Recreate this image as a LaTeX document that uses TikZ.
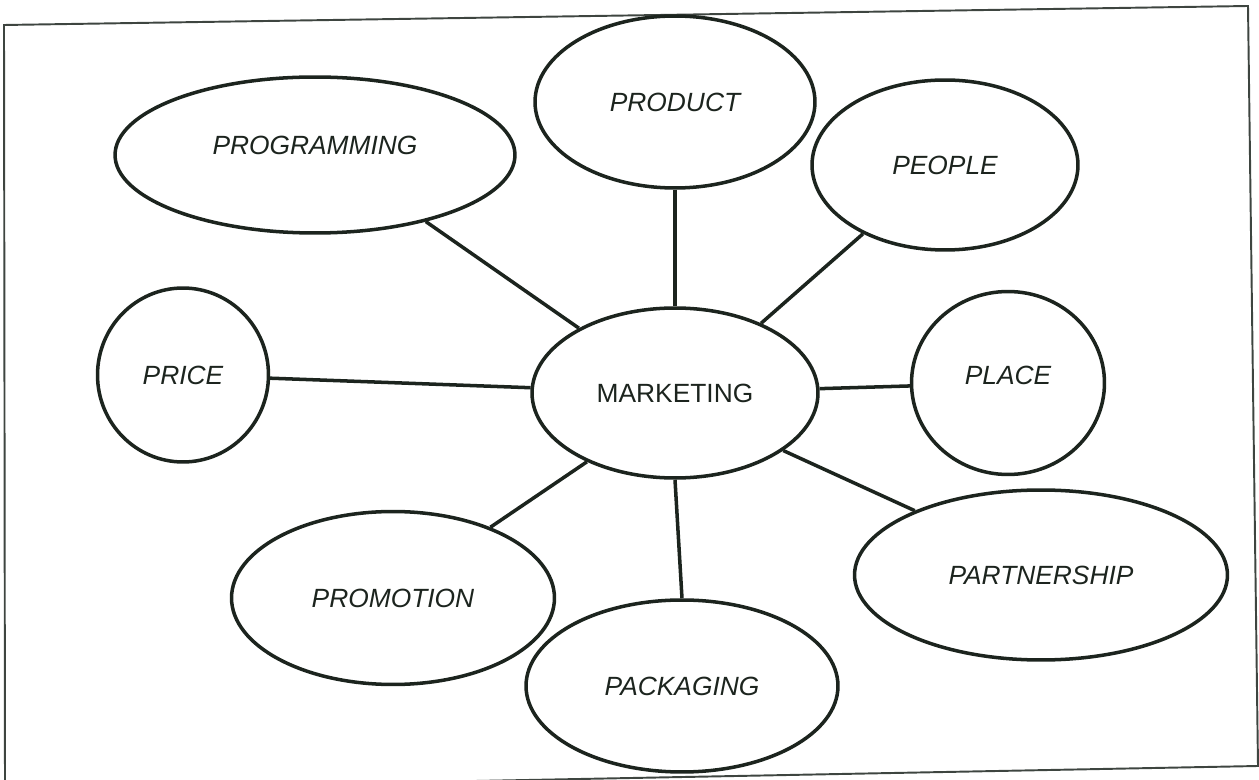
\documentclass[tikz,border=0pt]{standalone}
\usepackage{fontspec}
\setmainfont{Liberation Sans}
\usetikzlibrary{shapes.geometric}
\definecolor{ink}{RGB}{28,36,30}
\begin{document}
\begin{tikzpicture}[x=0.02cm,y=-0.02cm,
  bubble/.style={ellipse,draw=ink,line width=2pt,inner sep=0pt,
    font=\fontsize{15}{18}\selectfont\itshape,text=ink},
  link/.style={draw=ink,line width=2pt}]
\useasboundingbox (0,0) rectangle (1259,780);
\draw[ink!85,line width=1.1pt] (4,25) -- (1248,6) -- (1258,766) -- (5,790) -- cycle;
\node[bubble,minimum width=8.0cm,minimum height=3.12cm] (prog) at (315,155) {\raisebox{0cm}[0pt][0pt]{PROGRAMMING}};
\node[bubble,minimum width=5.6cm,minimum height=3.44cm] (prod) at (675,102) {PRODUCT};
\node[bubble,minimum width=5.32cm,minimum height=3.4cm] (peop) at (945,165) {PEOPLE};
\node[bubble,minimum width=3.42cm,minimum height=3.48cm] (price) at (183,375) {PRICE};
\node[bubble,minimum width=5.72cm,minimum height=3.4cm,font=\fontsize{15}{18}\selectfont] (mkt) at (675,393) {MARKETING};
\node[bubble,minimum width=3.86cm,minimum height=3.66cm] (place) at (1008,383) {\raisebox{-0.03cm}[0pt][0pt]{PLACE}};
\node[bubble,minimum width=6.46cm,minimum height=3.46cm] (promo) at (393,598) {PROMOTION};
\node[bubble,minimum width=6.24cm,minimum height=3.44cm] (pack) at (682,686) {PACKAGING};
\node[bubble,minimum width=7.46cm,minimum height=3.4cm] (part) at (1041,575) {PARTNERSHIP};
\draw[link] (prog.-31) -- (mkt.146);
\draw[link] (prod.south) -- (mkt.north);
\draw[link] (peop.-140) -- (mkt.39);
\draw[link] (price) -- (mkt);
\draw[link] (mkt) -- (place);
\draw[link] (promo.36) -- (mkt.218);
\draw[link] (pack.north) -- (mkt.south);
\draw[link] (part.153) -- (mkt.-28);
\end{tikzpicture}
\end{document}
